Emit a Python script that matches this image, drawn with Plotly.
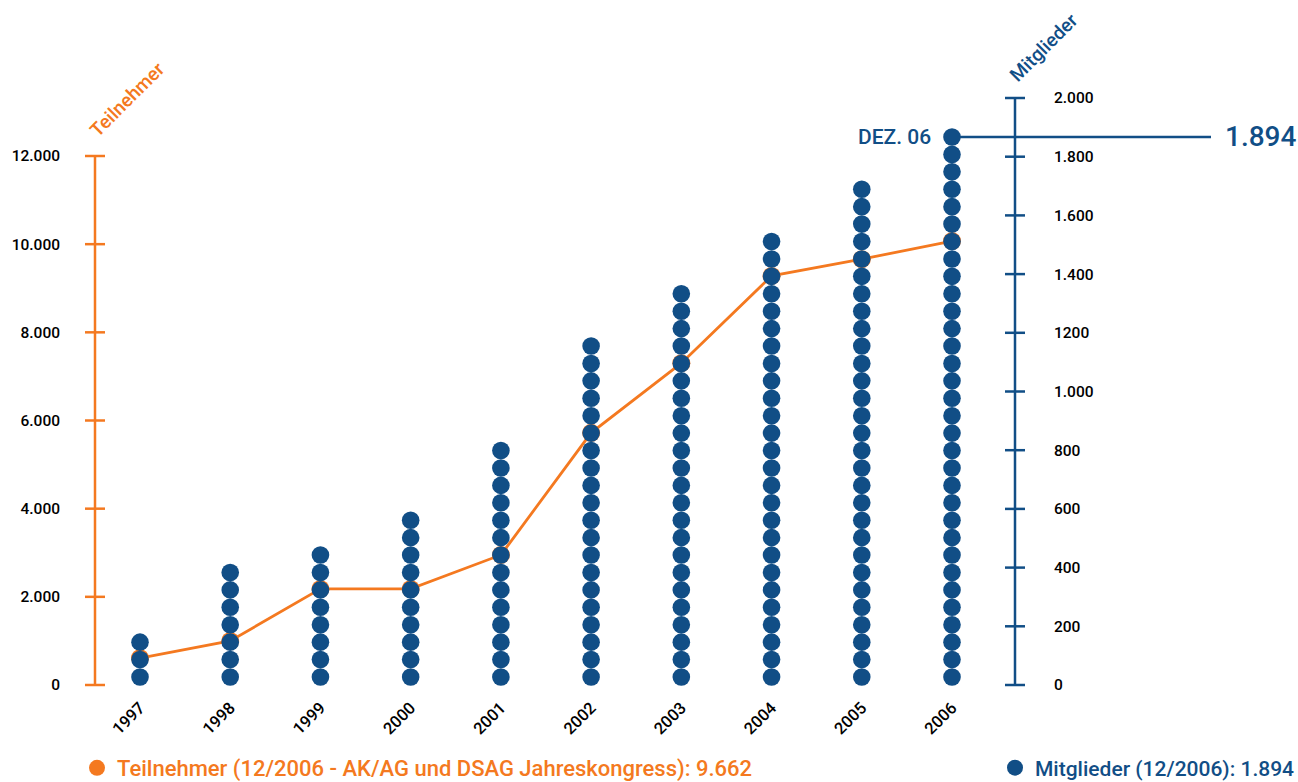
import plotly.graph_objects as go

# ---------------- data ----------------
years = [1997, 1998, 1999, 2000, 2001, 2002, 2003, 2004, 2005, 2006]
teilnehmer = [612, 1000, 2180, 2180, 2950, 5720, 7300, 9280, 9660, 10070]
mitglieder_dots = [3, 7, 8, 10, 14, 20, 23, 26, 29, 32]   # dots stacked per year
mitglieder_total = "1.894"
left_ticks = [0, 2000, 4000, 6000, 8000, 10000, 12000]
left_labels = ["0", "2.000", "4.000", "6.000", "8.000", "10.000", "12.000"]
right_ticks = [0, 200, 400, 600, 800, 1000, 1200, 1400, 1600, 1800, 2000]
right_labels = ["0", "200", "400", "600", "800", "1.000", "1200", "1.400", "1.600", "1.800", "2.000"]
legend_orange = "Teilnehmer (12/2006 - AK/AG und DSAG Jahreskongress): 9.662"
legend_blue = "Mitglieder (12/2006): 1.894"

# ---------------- style ----------------
ORANGE = "#F47920"
BLUE = "#114E86"
FONT = "Roboto"
W, H = 1298, 782
DOT_UNIT = 59.35      # Mitglieder per pictogram dot (vertical spacing)
DOT_OFFSET = 0.46

# stacked dot positions
dx, dy = [], []
for yr, n in zip(years, mitglieder_dots):
    for i in range(n):
        dx.append(yr)
        dy.append((i + DOT_OFFSET) * DOT_UNIT)
top_dot = (mitglieder_dots[-1] - 1 + DOT_OFFSET) * DOT_UNIT

fig = go.Figure()
fig.add_trace(go.Scatter(
    x=dx, y=dy, yaxis="y2", mode="markers",
    marker=dict(color=BLUE, size=17.6, line=dict(width=0)),
    name=legend_blue, legend="legend2", hoverinfo="skip"))
fig.add_trace(go.Scatter(
    x=years, y=teilnehmer, mode="lines",
    line=dict(color=ORANGE, width=2.8), showlegend=False, hoverinfo="skip"))
fig.add_trace(go.Scatter(
    x=years, y=teilnehmer, mode="markers",
    marker=dict(color=ORANGE, size=18), name=legend_orange, legend="legend",
    hoverinfo="skip"))

px_per_year = (952 - 140) / 9
x0 = years[0] - 140 / px_per_year
x1 = years[0] + (W - 140) / px_per_year

def px_x(p):
    return p / W

def px_y(p):
    return (H - p) / H

# axis lines + crossing ticks (shapes in axis coordinates)
shapes = []
lx = 95
shapes.append(dict(type="line", xref="paper", yref="y", x0=px_x(lx), x1=px_x(lx),
                   y0=left_ticks[0], y1=left_ticks[-1], line=dict(color=ORANGE, width=2.5)))
for t in left_ticks:
    shapes.append(dict(type="line", xref="paper", yref="y", x0=px_x(lx - 10), x1=px_x(lx + 10),
                       y0=t, y1=t, line=dict(color=ORANGE, width=2.5)))
rx = 1015
shapes.append(dict(type="line", xref="paper", yref="y2", x0=px_x(rx), x1=px_x(rx),
                   y0=right_ticks[0], y1=right_ticks[-1], line=dict(color=BLUE, width=2.5)))
for t in right_ticks:
    shapes.append(dict(type="line", xref="paper", yref="y2", x0=px_x(rx - 10), x1=px_x(rx + 10),
                       y0=t, y1=t, line=dict(color=BLUE, width=2.5)))
# Dez. 06 reference line
shapes.append(dict(type="line", xref="x", yref="y2", x0=years[-1], x1=years[0] + (1211 - 140) / px_per_year,
                   y0=top_dot, y1=top_dot, line=dict(color=BLUE, width=2.5), layer="below"))

annotations = [
    dict(text="Teilnehmer", xref="paper", yref="paper", x=px_x(127), y=px_y(99),
         xanchor="center", yanchor="middle",
         showarrow=False, textangle=-45, font=dict(family=FONT, size=19, color=ORANGE, weight=500)),
    dict(text="Mitglieder", xref="paper", yref="paper", x=px_x(1044), y=px_y(48),
         xanchor="center", yanchor="middle",
         showarrow=False, textangle=-45, font=dict(family=FONT, size=19, color=BLUE, weight=500)),
    dict(text="DEZ. 06", xref="paper", yref="y2", x=px_x(933), y=top_dot, xanchor="right",
         yanchor="middle", showarrow=False, font=dict(family=FONT, size=21, color=BLUE, weight=500)),
    dict(text=mitglieder_total, xref="paper", yref="y2", x=px_x(1223), y=top_dot, xanchor="left",
         yanchor="middle", showarrow=False, font=dict(family=FONT, size=28, color=BLUE, weight=500)),
]

fig.update_layout(
    autosize=True, margin=dict(l=0, r=0, t=0, b=0, autoexpand=False),
    paper_bgcolor="white", plot_bgcolor="white",
    font=dict(family=FONT, color="black", size=15),
    xaxis=dict(range=[x0, x1], domain=[0, 1], anchor="free", position=px_y(694),
               tickvals=years, ticktext=[str(y) for y in years], tickangle=-45,
               showgrid=False, zeroline=False, showline=False, ticks="",
               tickfont=dict(family=FONT, size=16.5, color="black", weight=500)),
    yaxis=dict(range=[-(H - 685) / 529 * 12000, 12000 + 156 / 529 * 12000], domain=[0, 1],
               anchor="free", position=px_x(lx), side="left",
               tickvals=left_ticks, ticktext=left_labels, ticks="",
               ticklabelstandoff=35, showgrid=False, zeroline=False, showline=False,
               tickfont=dict(family=FONT, size=15.5, color="black", weight=500)),
    yaxis2=dict(range=[-(H - 685) / 587 * 2000, 2000 + 98 / 587 * 2000], domain=[0, 1],
                overlaying="y", anchor="free", position=px_x(rx), side="right",
                tickvals=right_ticks, ticktext=right_labels, ticks="",
                ticklabelstandoff=38, showgrid=False, zeroline=False, showline=False,
                tickfont=dict(family=FONT, size=15.5, color="black", weight=500)),
    shapes=shapes, annotations=annotations,
    legend=dict(x=px_x(77), y=px_y(768), xanchor="left", yanchor="middle",
                bgcolor="rgba(0,0,0,0)", font=dict(family=FONT, size=22, color=ORANGE, weight=500)),
    legend2=dict(x=px_x(995), y=px_y(768), xanchor="left", yanchor="middle",
                 bgcolor="rgba(0,0,0,0)", font=dict(family=FONT, size=21, color=BLUE, weight=500)),
    showlegend=True,
)

fig.write_html(
    "out.html",
    config={"displayModeBar": False, "responsive": True},
    default_width="100vw", default_height="100vh",
    post_script=("document.documentElement.style.margin='0';document.body.style.margin='0';"
                 "document.documentElement.style.overflow='hidden';document.body.style.overflow='hidden';"
                 "Plotly.Plots.resize(document.getElementById('{plot_id}'));"),
)
